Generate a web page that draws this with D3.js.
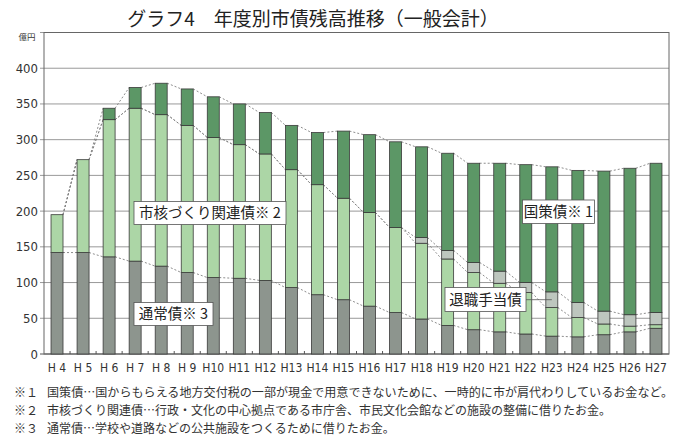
<!DOCTYPE html>
<html><head><meta charset="utf-8">
<script src="https://cdn.jsdelivr.net/npm/d3@7"></script>
<style>
body{margin:0;background:#fff;}
svg{display:block;}
.jp{font-family:"Noto Sans CJK JP","Noto Sans CJK SC",sans-serif;}
.num{font-family:"Liberation Sans Narrow","DejaVu Sans Condensed","Liberation Sans",sans-serif;}
</style></head>
<body>
<svg id="c" width="685" height="448"></svg>
<script>
const years = ["H 4","H 5","H 6","H 7","H 8","H 9","H10","H11","H12","H13","H14","H15","H16","H17","H18","H19","H20","H21","H22","H23","H24","H25","H26","H27"];
const tsujo  = [142,142,136,130,123,114,107,106,103,93,83,76,67,58,49,40,34,31,28,25,24,27,31,36];
const shikaku= [53,130,192,214,212,206,196,187,177,165,154,142,131,119,106,93,80,68,58,40,27,15,8,5];
const taishoku=[0,0,0,0,0,0,0,0,0,0,0,0,0,0,8,12,14,17,14,22,21,18,16,17];
const kokusaku=[0,0,16,29,44,51,57,57,58,62,73,94,109,120,127,136,139,151,165,175,185,196,205,209];
const yTicks = [0,50,100,150,200,250,300,350,400];
const seriesKeys = ["tsujo","shikaku","taishoku","kokusaku"];
const colors = {tsujo:"#8d958e", shikaku:"#acd6a6", taishoku:"#bdc6be", kokusaku:"#5c9766"};

const title = "グラフ4　年度別市債残高推移（一般会計）";
const notes = [
  ["※１","国策債…国からもらえる地方交付税の一部が現金で用意できないために、一時的に市が肩代わりしているお金など。"],
  ["※２","市核づくり関連債…行政・文化の中心拠点である市庁舎、市民文化会館などの施設の整備に借りたお金。"],
  ["※３","通常債…学校や道路などの公共施設をつくるために借りたお金。"]
];

const svg = d3.select("#c");
const L=44, R=669, T=32.5, B=354;
const x = d3.scaleBand().domain(years).range([L,R]).paddingInner(0.54).paddingOuter(0.27);
const y = d3.scaleLinear().domain([0,450]).range([B,T]);

const rows = years.map((yr,i)=>({year:yr,tsujo:tsujo[i],shikaku:shikaku[i],taishoku:taishoku[i],kokusaku:kokusaku[i]}));
const stack = d3.stack().keys(seriesKeys)(rows);

// title
svg.append("text").attr("class","jp").attr("x",313).attr("y",26).attr("text-anchor","middle")
  .attr("font-size",19).attr("font-weight",400).attr("fill","#222").text(title);
svg.append("text").attr("class","jp").attr("x",27).attr("y",40).attr("text-anchor","middle")
  .attr("font-size",8.5).attr("fill","#333").text("億円");

// gridlines
svg.append("g").selectAll("line").data(yTicks.concat([450])).join("line")
  .attr("x1",L-4).attr("x2",R).attr("y1",d=>y(d)).attr("y2",d=>y(d))
  .attr("stroke",(d)=>d===0?"#555":"#999").attr("stroke-width",1);

// frame
svg.append("rect").attr("x",L).attr("y",T).attr("width",R-L).attr("height",B-T)
  .attr("fill","none").attr("stroke","#666").attr("stroke-width",1);

// y labels
svg.append("g").selectAll("text").data(yTicks).join("text").attr("class","num")
  .attr("x",38).attr("y",d=>y(d)+4.5).attr("text-anchor","end").attr("font-size",13).attr("fill","#333")
  .text(d=>d);

// bottom ticks
const step = x.step();
svg.append("g").selectAll("line").data(years.slice(1)).join("line")
  .attr("x1",d=>x(d)-(step-x.bandwidth())/2).attr("x2",d=>x(d)-(step-x.bandwidth())/2)
  .attr("y1",B).attr("y2",B-3).attr("stroke","#555");

// dotted connector lines
const conn = svg.append("g");
stack.forEach(s=>{
  for(let i=0;i<years.length-1;i++){
    const v1=s[i][1], v2=s[i+1][1];
    conn.append("line")
      .attr("x1",x(years[i])+x.bandwidth()).attr("y1",y(v1))
      .attr("x2",x(years[i+1])).attr("y2",y(v2))
      .attr("stroke","#808080").attr("stroke-width",0.9).attr("stroke-dasharray","2,2");
  }
});

// bars
svg.append("g").selectAll("g").data(stack).join("g").attr("fill",d=>colors[d.key])
  .selectAll("rect").data(d=>d.filter(p=>p[1]-p[0]>0)).join("rect")
  .attr("x",d=>x(d.data.year)).attr("width",x.bandwidth())
  .attr("y",d=>y(d[1])).attr("height",d=>y(d[0])-y(d[1]))
  .attr("stroke","#3a3a3a").attr("stroke-width",0.8);

// x labels
svg.append("g").selectAll("text").data(years).join("text").attr("class","num")
  .attr("x",d=>x(d)+x.bandwidth()/2).attr("y",372).attr("text-anchor","middle")
  .attr("font-size",12).attr("fill","#333").text(d=>d);

// label boxes
function box(x0,y0,w,h,txt){
  svg.append("rect").attr("x",x0).attr("y",y0).attr("width",w).attr("height",h)
    .attr("fill","#fff").attr("stroke","#555").attr("stroke-width",0.8);
  svg.append("text").attr("class","jp").attr("x",x0+w/2).attr("y",y0+h/2+5.3).attr("text-anchor","middle")
    .attr("font-size",14.5).attr("fill","#222").text(txt);
}
// leader for 退職手当債 to H23
svg.append("line").attr("x1",526).attr("x2",x("H23")+x.bandwidth()/2).attr("y1",y(76)).attr("y2",y(76))
  .attr("stroke","#555").attr("stroke-width",0.8);
box(134,201.5,152,23,"市核づくり関連債※ 2");
box(134,302.5,79,23,"通常債※ 3");
box(522.5,200,72,23.5,"国策債※ 1");
box(445,287.5,81,24,"退職手当債");

// footnotes
const ng = svg.append("g").attr("class","jp").attr("font-size",12).attr("fill","#333");
notes.forEach((n,i)=>{
  ng.append("text").attr("x",14).attr("y",397+i*18).text(n[0]);
  ng.append("text").attr("x",47).attr("y",397+i*18).attr("textLength",i===0?626:null).attr("lengthAdjust","spacingAndGlyphs").text(n[1]);
});
</script>
</body></html>
